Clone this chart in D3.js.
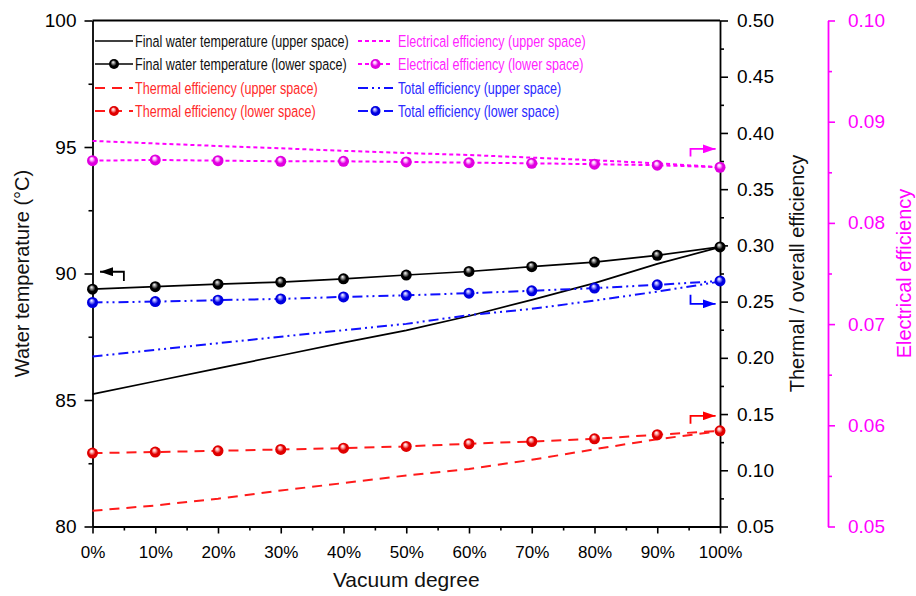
<!DOCTYPE html>
<html>
<head>
<meta charset="utf-8">
<script src="https://cdn.jsdelivr.net/npm/d3@7"></script>
<style>
  body { margin: 0; background: #fff; }
  svg { display: block; }
  .tick text { fill: currentColor; }
</style>
</head>
<body>
<svg id="vis" width="916" height="596"></svg>
<script>
/**
 * magic numbers for the plot box
 */
const WIDTH = 916;
const HEIGHT = 596;
const MARGINS = {top: 20.5, right: 196, bottom: 69.5, left: 92.5};
const ELEC_AXIS_X = 828;

// x: vacuum degree (%)
const VACUUM = [0, 10, 20, 30, 40, 50, 60, 70, 80, 90, 100];

// final water temperature (°C), left axis
const TEMP_UPPER = [85.23, 85.74, 86.25, 86.76, 87.27, 87.75, 88.32, 88.96, 89.62, 90.38, 91.04];
const TEMP_LOWER = [89.38, 89.48, 89.58, 89.66, 89.79, 89.94, 90.08, 90.27, 90.45, 90.72, 91.05];

// thermal / total efficiency, right black axis
const THERMAL_UPPER = [0.064, 0.0687, 0.0747, 0.082, 0.0886, 0.0954, 0.1011, 0.1093, 0.1187, 0.1276, 0.1348];
const THERMAL_LOWER = [0.1153, 0.1162, 0.1173, 0.1185, 0.1197, 0.1212, 0.1236, 0.1256, 0.128, 0.1316, 0.1351];
const TOTAL_UPPER = [0.2012, 0.2071, 0.2130, 0.2188, 0.2246, 0.2302, 0.2380, 0.2436, 0.2509, 0.2589, 0.2678];
const TOTAL_LOWER = [0.2492, 0.2500, 0.2513, 0.2524, 0.2542, 0.2556, 0.2575, 0.2596, 0.2620, 0.2649, 0.2684];

// electrical efficiency, magenta axis
const ELEC_UPPER = [0.0881, 0.08785, 0.0876, 0.08737, 0.08712, 0.0869, 0.08671, 0.08645, 0.08619, 0.08589, 0.0855];
const ELEC_LOWER = [0.08615, 0.08622, 0.08615, 0.08609, 0.08609, 0.08602, 0.08595, 0.08589, 0.0858, 0.0857, 0.0855];

// tick values
const X_TICKS = [0, 10, 20, 30, 40, 50, 60, 70, 80, 90, 100];
const X_MINOR = [5, 15, 25, 35, 45, 55, 65, 75, 85, 95];
const TEMP_TICKS = [80, 85, 90, 95, 100];
const TEMP_MINOR = [82.5, 87.5, 92.5, 97.5];
const EFF_TICKS = [0.05, 0.10, 0.15, 0.20, 0.25, 0.30, 0.35, 0.40, 0.45, 0.50];
const EFF_MINOR = [0.075, 0.125, 0.175, 0.225, 0.275, 0.325, 0.375, 0.425, 0.475];
const ELEC_TICKS = [0.05, 0.06, 0.07, 0.08, 0.09, 0.10];
const ELEC_MINOR = [0.055, 0.065, 0.075, 0.085, 0.095];

const LEGEND_NAMES = [
    "Final water temperature (upper space)",
    "Final water temperature (lower space)",
    "Thermal efficiency (upper space)",
    "Thermal efficiency (lower space)",
    "Electrical efficiency (upper space)",
    "Electrical efficiency (lower space)",
    "Total efficiency (upper space)",
    "Total efficiency (lower space)"
];

// annotation arrows: which axis they point to, in data units
const ARROW_PATHS = [
    {axis: "temp", color: "#000", pts: [[5, 89.7], [5, 90.07], [1.2, 90.07]]},
    {axis: "elec", color: "#ff00ff", pts: [[95.3, 0.08655], [95.3, 0.08731], [99.3, 0.08731]]},
    {axis: "eff", color: "#0000ff", pts: [[95.3, 0.256], [95.3, 0.248], [99.3, 0.248]]},
    {axis: "eff", color: "#ff0000", pts: [[95.3, 0.1413], [95.3, 0.1484], [99.3, 0.1484]]}
];

const FONT = "Arial, 'Liberation Sans', sans-serif";
// no narrow face installed: squeeze the legend text horizontally instead
const LEGEND_SQUEEZE = 0.74;

const DASH = {solid: null, dash: "10,7", dot: "4,3", dashdotdot: "10,4,2,4,2,4"};

var svg = d3.select("#vis");

// scales
var x = d3.scaleLinear().domain([0, 100]).range([MARGINS.left, WIDTH - MARGINS.right]);
var yTemp = d3.scaleLinear().domain([80, 100]).range([HEIGHT - MARGINS.bottom, MARGINS.top]);
var yEff = d3.scaleLinear().domain([0.05, 0.5]).range([HEIGHT - MARGINS.bottom, MARGINS.top]);
var yElec = d3.scaleLinear().domain([0.05, 0.1]).range([HEIGHT - MARGINS.bottom, MARGINS.top]);
var Y = {temp: yTemp, eff: yEff, elec: yElec};

// series table built from the arrays above
var series = [
    {name: LEGEND_NAMES[0], values: TEMP_UPPER, axis: "temp", color: "#000", dash: "solid", marker: false},
    {name: LEGEND_NAMES[1], values: TEMP_LOWER, axis: "temp", color: "#000", dash: "solid", marker: true},
    {name: LEGEND_NAMES[2], values: THERMAL_UPPER, axis: "eff", color: "#ff1a1a", dash: "dash", marker: false},
    {name: LEGEND_NAMES[3], values: THERMAL_LOWER, axis: "eff", color: "#ff1a1a", dash: "dash", marker: true},
    {name: LEGEND_NAMES[4], values: ELEC_UPPER, axis: "elec", color: "#ff00ff", dash: "dot", marker: false},
    {name: LEGEND_NAMES[5], values: ELEC_LOWER, axis: "elec", color: "#ff00ff", dash: "dot", marker: true},
    {name: LEGEND_NAMES[6], values: TOTAL_UPPER, axis: "eff", color: "#1010ff", dash: "dashdotdot", marker: false},
    {name: LEGEND_NAMES[7], values: TOTAL_LOWER, axis: "eff", color: "#1010ff", dash: "dashdotdot", marker: true}
];

// sphere gradients + arrowheads
var defs = svg.append("defs");
[["k", "#000", "#9a9a9a"], ["r", "#e00000", "#ffb0b0"], ["m", "#e000e0", "#ffc0ff"], ["b", "#0000e0", "#a0a0ff"]]
    .forEach(function(g){
        var grad = defs.append("radialGradient").attr("id", "ball-" + g[0])
            .attr("cx", "50%").attr("cy", "50%").attr("r", "50%")
            .attr("fx", "40%").attr("fy", "30%");
        grad.append("stop").attr("offset", "0%").attr("stop-color", "#fff");
        grad.append("stop").attr("offset", "25%").attr("stop-color", g[2]);
        grad.append("stop").attr("offset", "60%").attr("stop-color", g[1]);
        grad.append("stop").attr("offset", "100%").attr("stop-color", g[1]);
    });
var ballId = {"#000": "ball-k", "#ff1a1a": "ball-r", "#ff00ff": "ball-m", "#1010ff": "ball-b"};

ARROW_PATHS.forEach(function(a, i){
    defs.append("marker").attr("id", "head" + i)
        .attr("markerUnits", "userSpaceOnUse")
        .attr("markerWidth", 14).attr("markerHeight", 9)
        .attr("refX", 13).attr("refY", 4.5)
        .attr("orient", "auto")
        .append("path").attr("d", "M0,0 L13,4.5 L0,9 Z").attr("fill", a.color);
});

/**
 * draws one axis with major + minor ticks
 */
function drawAxis(axisFn, scale, transform, major, minor, fmt, size, pad, color, fontSize){
    var g = svg.append("g").attr("transform", transform)
        .call(axisFn(scale).tickValues(major).tickSize(size).tickSizeOuter(0).tickPadding(pad).tickFormat(fmt))
        .attr("font-family", FONT).attr("font-size", fontSize).style("color", color);
    g.select(".domain").attr("stroke-width", 1.8);
    g.selectAll(".tick line").attr("stroke-width", 1.6);
    g.selectAll(".tick text").attr("fill", color === "#000" ? "#222" : color);
    var m = svg.append("g").attr("transform", transform)
        .call(axisFn(scale).tickValues(minor).tickSize(4).tickSizeOuter(0).tickFormat(""))
        .style("color", color);
    m.select(".domain").remove();
    m.selectAll(".tick line").attr("stroke-width", 1.6);
}

var bottomY = HEIGHT - MARGINS.bottom;
var rightX = WIDTH - MARGINS.right;

drawAxis(d3.axisBottom, x, `translate(0,${bottomY})`, X_TICKS, X_MINOR, d => d + "%", 7, 12, "#000", 17);
drawAxis(d3.axisLeft, yTemp, `translate(${MARGINS.left},0)`, TEMP_TICKS, TEMP_MINOR, d3.format("d"), 8, 8, "#000", 19);
drawAxis(d3.axisRight, yEff, `translate(${rightX},0)`, EFF_TICKS, EFF_MINOR, d3.format(".2f"), 8, 9, "#000", 19);
drawAxis(d3.axisRight, yElec, `translate(${ELEC_AXIS_X},0)`, ELEC_TICKS, ELEC_MINOR, d3.format(".2f"), 7, 13, "#ff00ff", 19);

// top frame line
svg.append("line")
    .attr("x1", MARGINS.left).attr("x2", rightX)
    .attr("y1", MARGINS.top).attr("y2", MARGINS.top)
    .attr("stroke", "#000").attr("stroke-width", 1.8);

// series lines
series.forEach(function(s){
    var line = d3.line()
        .x(function(d, i){ return x(VACUUM[i]); })
        .y(function(d){ return Y[s.axis](d); });
    svg.append("path")
        .datum(s.values)
        .attr("d", line)
        .attr("fill", "none")
        .attr("stroke", s.color)
        .attr("stroke-width", s.color === "#000" ? 1.7 : 2)
        .attr("stroke-dasharray", DASH[s.dash]);
});

// markers on the "lower space" series
series.filter(function(s){ return s.marker; }).forEach(function(s){
    svg.append("g").selectAll("circle")
        .data(s.values)
        .enter()
        .append("circle")
        .attr("cx", function(d, i){ return x(VACUUM[i]); })
        .attr("cy", function(d){ return Y[s.axis](d); })
        .attr("r", 5.5)
        .attr("fill", "url(#" + ballId[s.color] + ")");
});

// arrows telling which axis each group belongs to
ARROW_PATHS.forEach(function(a, i){
    var line = d3.line()
        .x(function(p){ return x(p[0]); })
        .y(function(p){ return Y[a.axis](p[1]); });
    svg.append("path")
        .attr("d", line(a.pts))
        .attr("fill", "none")
        .attr("stroke", a.color)
        .attr("stroke-width", 1.8)
        .attr("marker-end", "url(#head" + i + ")");
});

// axis titles
svg.append("text")
    .attr("transform", `translate(29,${(MARGINS.top + bottomY) / 2}) rotate(-90)`)
    .attr("text-anchor", "middle").attr("font-family", FONT).attr("font-size", 20).attr("fill", "#111")
    .text("Water temperature (°C)");
svg.append("text")
    .attr("transform", `translate(804,${(MARGINS.top + bottomY) / 2}) rotate(-90)`)
    .attr("text-anchor", "middle").attr("font-family", FONT).attr("font-size", 20).attr("fill", "#111")
    .text("Thermal / overall efficiency");
svg.append("text")
    .attr("transform", `translate(911,${(MARGINS.top + bottomY) / 2}) rotate(-90)`)
    .attr("text-anchor", "middle").attr("font-family", FONT).attr("font-size", 20).attr("fill", "#ff00ff")
    .text("Electrical efficiency");
svg.append("text")
    .attr("x", (MARGINS.left + rightX) / 2).attr("y", 587)
    .attr("text-anchor", "middle").attr("font-family", FONT).attr("font-size", 21).attr("fill", "#111")
    .text("Vacuum degree");

// legend: two columns of four rows
var legendCols = [{x0: 95, x1: 133, tx: 135}, {x0: 358, x1: 393, tx: 398}];
var legendRows = [41, 64, 88, 111];
var textColor = {"#000": "#111", "#ff1a1a": "#ff2a2a", "#ff00ff": "#ff22ff", "#1010ff": "#2a2aff"};
series.forEach(function(s, i){
    var col = legendCols[Math.floor(i / 4)];
    var ry = legendRows[i % 4];
    var g = svg.append("g").attr("class", "legend");
    g.append("line")
        .attr("x1", col.x0).attr("x2", col.x1)
        .attr("y1", ry).attr("y2", ry)
        .attr("stroke", s.color)
        .attr("stroke-width", s.color === "#000" ? 1.7 : 2)
        .attr("stroke-dasharray", DASH[s.dash]);
    if (s.marker) {
        g.append("circle")
            .attr("cx", (col.x0 + col.x1) / 2).attr("cy", ry).attr("r", 5)
            .attr("fill", "url(#" + ballId[s.color] + ")");
    }
    g.append("text")
        .attr("transform", `translate(${col.tx},${ry + 6}) scale(${LEGEND_SQUEEZE},1)`)
        .attr("font-family", FONT).attr("font-size", 17)
        .attr("fill", textColor[s.color])
        .text(s.name);
});
</script>
</body>
</html>
